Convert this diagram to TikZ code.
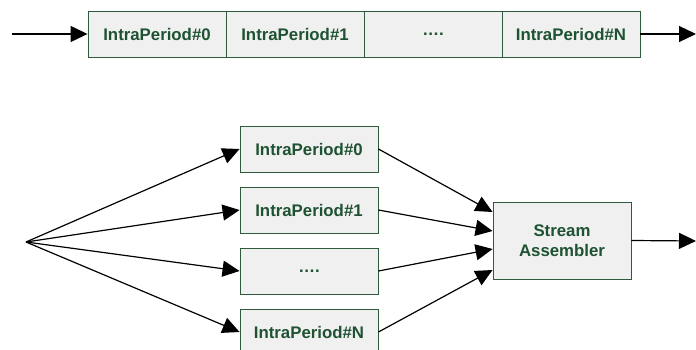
\documentclass[tikz,border=0pt]{standalone}
\usepackage{fontspec}
\setmainfont{Liberation Sans}
\usetikzlibrary{positioning, arrows.meta}

\definecolor{boxfill}{HTML}{F0F0F0}
\definecolor{boxline}{HTML}{2F5B3C}
\definecolor{boxtext}{HTML}{1E5232}

\begin{document}
\begin{tikzpicture}[
    x=1pt,y=-1pt,
    period/.style={draw=boxline,fill=boxfill,text=boxtext,line width=0.9pt,
      minimum width=138pt,minimum height=46pt,inner sep=0pt,
      font=\fontsize{16.8}{20}\selectfont\bfseries},
    assembler/.style={period,minimum height=77pt,align=center},
    flow/.style={-{Triangle[length=17pt,width=16pt]},line width=1.2pt}
  ]
  \useasboundingbox (0,0) rectangle (696,350);

  % serial chain of intra periods
  \foreach \i/\lbl in {0/IntraPeriod\#0,1/IntraPeriod\#1,2/\dots.,3/IntraPeriod\#N} {
    \node[period] (s\i) at (157+\i*138,34) {\lbl};
  }
  \coordinate (sin) at (12,34);
  \coordinate (sout) at (696,34);
  \draw[flow] (sin) -- (s0.west);
  \draw[flow] (s3.east) -- (sout);

  % parallel intra periods feeding the assembler
  \coordinate (fan) at (26,242);
  \node[assembler] (asm) at (562,240.5) {Stream\\Assembler};
  \foreach \i/\lbl/\dy in {0/IntraPeriod\#0/-28.5,1/IntraPeriod\#1/-9.5,2/\dots./8.5,3/IntraPeriod\#N/29.5} {
    \node[period] (p\i) at (309,149+\i*61) {\lbl};
    \draw[flow] (fan) -- (p\i.west);
    \draw[flow] (p\i.east) -- ([yshift=-\dy pt]asm.west);
  }
  \coordinate (pout) at (696,241);
  \draw[flow] (asm.east) -- (pout);

\end{tikzpicture}
\end{document}
